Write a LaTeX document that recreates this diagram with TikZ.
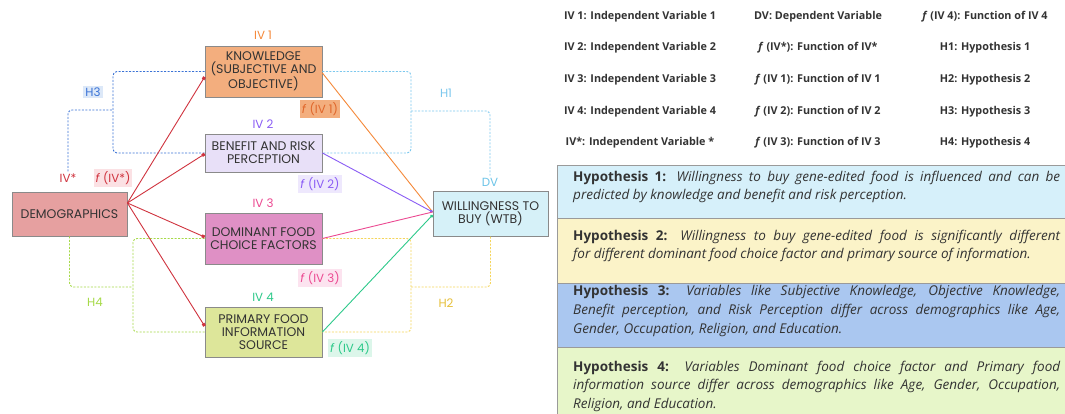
\documentclass[tikz,border=0pt]{standalone}
\usepackage{fontspec}
\setmainfont{Open Sans}
\newfontfamily\nodefont{Poppins}
\usetikzlibrary{arrows.meta}
\definecolor{boxborder}{HTML}{8A8A8A}
\definecolor{textdark}{HTML}{333333}
\definecolor{cDemo}{HTML}{E6A0A0}
\definecolor{cKnow}{HTML}{F3AE7E}
\definecolor{cBen}{HTML}{E8E0F8}
\definecolor{cDom}{HTML}{DF90C5}
\definecolor{cPrim}{HTML}{DDE69A}
\definecolor{cWtb}{HTML}{D6F1F8}
\definecolor{cRed}{HTML}{D0343F}
\definecolor{cOrange}{HTML}{F5893A}
\definecolor{cOrangeTxt}{HTML}{E0662A}
\definecolor{cPurple}{HTML}{8A5CF5}
\definecolor{cPink}{HTML}{EC4A92}
\definecolor{cGreen}{HTML}{2DC98A}
\definecolor{cDV}{HTML}{6CC4E8}
\definecolor{cHthree}{HTML}{3B73D6}
\definecolor{cHone}{HTML}{7CC8EE}
\definecolor{cHfour}{HTML}{A6DA48}
\definecolor{cHtwo}{HTML}{F5D55A}
\definecolor{cHtwoTxt}{HTML}{E6C03A}
\definecolor{bgPink}{HTML}{FBE1E4}
\definecolor{bgPurple}{HTML}{EEE8FD}
\definecolor{bgPinkB}{HTML}{FCE3EF}
\definecolor{bgGreen}{HTML}{DCF6EA}
\definecolor{bgBlue}{HTML}{DCE8F8}
\definecolor{hOne}{HTML}{D6F0FA}
\definecolor{hTwo}{HTML}{FBF3C8}
\definecolor{hThree}{HTML}{AAC7F0}
\definecolor{hFour}{HTML}{E7F6C9}
\definecolor{hBorder}{HTML}{9A9A9A}
\hyphenpenalty=10000
\exhyphenpenalty=10000
\begin{document}
\begin{tikzpicture}[x=1pt,y=-1pt,
  box/.style={draw=boxborder, line width=0.8pt, align=center, inner sep=1pt, text=textdark,
    font=\nodefont\fontsize{12.5}{13.2}\selectfont},
  lab/.style={font=\nodefont\fontsize{11.8}{13}\selectfont, inner sep=2pt},
  demoline/.style={draw=cRed, line width=0.9pt, -{Square[length=3pt,width=3pt]}},
  wtbline/.style={line width=0.9pt},
  dsh/.style={dash pattern=on 2pt off 1.5pt, line width=0.9pt, rounded corners=4pt},
  leg/.style={font=\fontsize{10.8}{12}\selectfont\bfseries, text=textdark},
  hyp/.style={draw=hBorder, line width=0.6pt},
  hyptext/.style={anchor=north west, text width=487pt, align=justify, inner sep=0pt, text=textdark,
    font=\fontsize{13.5}{18.7}\selectfont}
]
\useasboundingbox[fill=white] (0,0) rectangle (1065,414);

% boxes
\node[box, fill=cDemo, minimum width=115pt, minimum height=44pt] (demo) at (69.5,214) {DEMOGRAPHICS};
\node[box, fill=cKnow, minimum width=117pt, minimum height=51pt] (know) at (263.5,71.5) {KNOWLEDGE\\(SUBJECTIVE AND\\OBJECTIVE)};
\node[box, fill=cBen, minimum width=117pt, minimum height=38pt] (ben) at (263.5,153) {BENEFIT AND RISK\\PERCEPTION};
\node[box, fill=cDom, minimum width=117pt, minimum height=51pt] (dom) at (263.5,238.5) {DOMINANT FOOD\\CHOICE FACTORS};
\node[box, fill=cPrim, minimum width=117pt, minimum height=50pt] (prim) at (263.5,332) {PRIMARY FOOD\\INFORMATION\\SOURCE};
\node[box, fill=cWtb, minimum width=115pt, minimum height=45pt] (wtb) at (490.5,213.5) {WILLINGNESS TO\\BUY (WTB)};

% labels
\node[lab, text=cOrange] (iv1) at (263,35) {IV 1};
\node[lab, text=cPurple] (iv2) at (263,124) {IV 2};
\node[lab, text=cPink] (iv3) at (263,203) {IV 3};
\node[lab, text=cGreen] (iv4) at (263,297) {IV 4};
\node[lab, text=cDV] (dv) at (490,182) {DV};
\node[lab, text=cRed] (ivs) at (68,178) {IV*};
\node[lab, text=cRed, fill=bgPink] (fivs) at (113,178) {\textit{f} (IV*)};
\node[lab, text=cOrangeTxt, fill=cKnow] (f1) at (320,109) {\textit{f} (IV 1)};
\node[lab, text=cPurple, fill=bgPurple] (f2) at (320,184) {\textit{f} (IV 2)};
\node[lab, text=cPink, fill=bgPinkB] (f3) at (320,278) {\textit{f} (IV 3)};
\node[lab, text=cGreen, fill=bgGreen] (f4) at (350,348) {\textit{f} (IV 4)};
\node[lab, text=cHthree, fill=bgBlue] (h3) at (93,92) {H3};
\node[lab, text=cHone] (h1) at (446,93) {H1};
\node[lab, text=cHfour] (h4) at (95,302) {H4};
\node[lab, text=cHtwoTxt] (h2) at (446,303) {H2};

% junction coordinates
\coordinate (h3j) at (113,110);
\coordinate (h1j) at (411,111);
\coordinate (h2j) at (411,287);
\coordinate (h4j) at (133,287);

% dashed hypothesis connectors
\draw[dsh, draw=cHthree] (ivs.north) |- (h3j);
\draw[dsh, draw=cHthree] (know.west) -| (h3j) |- (ben.west);
\draw[dsh, draw=cHone] (know.east) -| (h1j) |- (ben.east);
\draw[dsh, draw=cHone] (h1j) -| (dv.north);
\draw[dsh, draw=cHtwo] (dom.east) -| (h2j) |- (prim.east);
\draw[dsh, draw=cHtwo] (h2j) -| (wtb.south);
\draw[dsh, draw=cHfour] (demo.south) |- (h4j);
\draw[dsh, draw=cHfour] (dom.west) -| (h4j) |- (prim.west);

% demographics to IVs
\coordinate (dsrc) at ([yshift=11pt]demo.east);
\draw[demoline] (dsrc) -- ([yshift=-5.5pt]know.west);
\draw[demoline] (dsrc) -- ([yshift=-1pt]ben.west);
\draw[demoline] (dsrc) -- ([yshift=1.5pt]dom.west);
\draw[demoline] (dsrc) -- ([yshift=6pt]prim.west);

% IVs to WTB
\draw[wtbline, draw=cOrange] ([yshift=-1.5pt]know.east) -- ([yshift=1.5pt]wtb.west);
\draw[wtbline, draw=cPurple, -{Circle[length=3pt]}] (ben.east) -- ([yshift=1.5pt]wtb.west);
\draw[wtbline, draw=cPink] (dom.east) -- ([yshift=1.5pt]wtb.west);
\draw[wtbline, draw=cGreen, -{Circle[length=3pt]}] (prim.east) -- ([yshift=-1.5pt]wtb.west);

% legend
\node[leg] (l11) at (640,17) {IV 1: Independent Variable 1};
\node[leg] (l21) at (640,48) {IV 2: Independent Variable 2};
\node[leg] (l31) at (640,80) {IV 3: Independent Variable 3};
\node[leg] (l41) at (640,112) {IV 4: Independent Variable 4};
\node[leg] (l51) at (640,143) {IV*: Independent Variable *};
\node[leg] (l12) at (818,17) {DV: Dependent Variable};
\node[leg] (l22) at (818,48) {\textit{f} (IV*): Function of IV*};
\node[leg] (l32) at (818,80) {\textit{f} (IV 1): Function of IV 1};
\node[leg] (l42) at (818,112) {\textit{f} (IV 2): Function of IV 2};
\node[leg] (l52) at (818,143) {\textit{f} (IV 3): Function of IV 3};
\node[leg] (l13) at (985,17) {\textit{f} (IV 4): Function of IV 4};
\node[leg] (l23) at (985,48) {H1: Hypothesis 1};
\node[leg] (l33) at (985,80) {H2: Hypothesis 2};
\node[leg] (l43) at (985,112) {H3: Hypothesis 3};
\node[leg] (l53) at (985,143) {H4: Hypothesis 4};

% hypothesis boxes
\fill[hOne] (557,165) rectangle (1068,218);
\fill[hTwo] (557,218) rectangle (1068,283);
\fill[hThree] (557,283) rectangle (1068,347);
\fill[hFour] (557,347) rectangle (1068,416);
\draw[hyp] (557,165) rectangle (1068,218);
\draw[hyp] (557,218) rectangle (1068,283);
\draw[hyp] (557,283) rectangle (1068,347);
\draw[hyp] (557,347) rectangle (1068,416);

\node[hyptext] (t1) at (573,170.5) {\textbf{Hypothesis 1:} \textit{Willingness to buy gene-edited food is influenced and can be\linebreak predicted by knowledge and benefit and risk perception.}};
\node[hyptext] (t2) at (573,229.5) {\textbf{Hypothesis 2:} \textit{Willingness to buy gene-edited food is significantly different\linebreak for different dominant food choice factor and primary source of information.}};
\node[hyptext] (t3) at (573,285.5) {\textbf{Hypothesis 3:} \textit{Variables like Subjective Knowledge, Objective Knowledge,\linebreak Benefit perception, and Risk Perception differ across demographics like Age,\linebreak Gender, Occupation, Religion, and Education.}};
\node[hyptext] (t4) at (573,360.5) {\textbf{Hypothesis 4:} \textit{Variables Dominant food choice factor and Primary food\linebreak information source differ across demographics like Age, Gender, Occupation,\linebreak Religion, and Education.}};
\end{tikzpicture}
\end{document}
